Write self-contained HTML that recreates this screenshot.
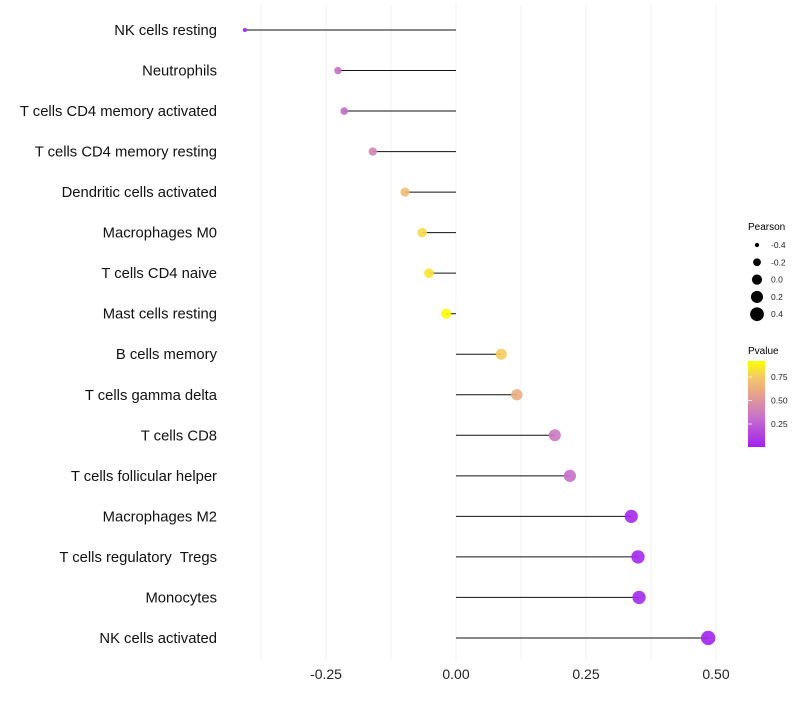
<!DOCTYPE html>
<html><head><meta charset="utf-8"><style>
body{margin:0;background:#fff;font-family:"Liberation Sans",sans-serif;}
svg text{font-family:"Liberation Sans",sans-serif;white-space:pre;}
</style></head><body>
<svg id="chart" width="800" height="700">
<defs><linearGradient id="pg" x1="0" y1="1" x2="0" y2="0">
<stop offset="0" stop-color="#a020f0"/><stop offset="0.35" stop-color="#c872c8"/><stop offset="0.6" stop-color="#e4a090"/><stop offset="0.8" stop-color="#f2c66c"/><stop offset="1" stop-color="#ffff00"/>
</linearGradient></defs>
<g id="grid"></g><g id="marks"></g><g id="ylab"></g><g id="xlab"></g>
<g id="legend">
<text x="748" y="230" font-size="10">Pearson</text>
<g id="sizeLeg"></g>
<text x="748" y="354" font-size="10">Pvalue</text>
<rect x="748" y="361" width="17" height="86" fill="url(#pg)"/>
<g id="colLeg"></g>
</g>
</svg>
<script>
const categories=["NK cells resting","Neutrophils","T cells CD4 memory activated","T cells CD4 memory resting","Dendritic cells activated","Macrophages M0","T cells CD4 naive","Mast cells resting","B cells memory","T cells gamma delta","T cells CD8","T cells follicular helper","Macrophages M2","T cells regulatory  Tregs","Monocytes","NK cells activated"];
const pearson=[-0.406,-0.227,-0.215,-0.160,-0.098,-0.065,-0.052,-0.019,0.087,0.117,0.190,0.219,0.337,0.350,0.352,0.485];
const pvalue=[0.02,0.32,0.30,0.42,0.70,0.80,0.83,0.93,0.76,0.62,0.36,0.32,0.05,0.05,0.05,0.03];
const xTicks=[-0.25,0,0.25,0.5];
const xTickLabels=["-0.25","0.00","0.25","0.50"];
const xMinor=[-0.375,-0.125,0.125,0.375];
const sizeLegVals=[-0.4,-0.2,0.0,0.2,0.4];
const colLegVals=[0.25,0.5,0.75];
const colLegLabels=["0.25","0.50","0.75"];
const NS="http://www.w3.org/2000/svg";
const x=v=>456+v*520;
const y=i=>30+i*40.53;
const r=v=>Math.sqrt(4+(v+0.41)/0.9*48);
const stops=[[0,[160,32,240]],[0.35,[200,114,200]],[0.6,[228,160,144]],[0.8,[242,198,108]],[1,[255,255,0]]];
function col(p){let t=Math.max(0,Math.min(1,(p-0.015)/(0.92-0.015)));for(let k=1;k<stops.length;k++){if(t<=stops[k][0]){const a=stops[k-1],b=stops[k];const f=(t-a[0])/(b[0]-a[0]);const c=a[1].map((v,j)=>Math.round(v+(b[1][j]-v)*f));return `rgb(${c})`;}}return "rgb(255,255,0)";}
function mk(tag,attrs,parent){const e=document.createElementNS(NS,tag);for(const k in attrs)e.setAttribute(k,attrs[k]);parent.appendChild(e);return e;}
const grid=document.getElementById('grid'),marks=document.getElementById('marks'),ylab=document.getElementById('ylab'),xlab=document.getElementById('xlab');
xMinor.concat(xTicks).forEach(v=>{const l=mk('line',{x1:x(v),x2:x(v),y1:5,y2:660,stroke:'#f0f0f0','stroke-width':1},grid);

});
xTicks.forEach((v,i)=>{const t=mk('text',{x:x(v),y:679,'font-size':14,'text-anchor':'middle',fill:'#222'},xlab);t.textContent=xTickLabels[i];

});
categories.forEach((c,i)=>{
const t=mk('text',{x:217,y:y(i)+5,'font-size':14.8,'text-anchor':'end',fill:'#111'},ylab);t.textContent=c;


const l=mk('line',{x1:x(0),x2:x(pearson[i]),y1:y(i),y2:y(i),stroke:'#111','stroke-width':1},marks);


const p=mk('circle',{cx:x(pearson[i]),cy:y(i),r:r(pearson[i]),fill:col(pvalue[i]),'fill-opacity':0.9},marks);


});
const sl=document.getElementById('sizeLeg');
sizeLegVals.forEach((v,i)=>{const cy=245+i*17.3;
const c=mk('circle',{cx:757,cy:cy,r:r(v),fill:'#000'},sl);


const t=mk('text',{x:771,y:cy+3,'font-size':8.5,fill:'#222'},sl);t.textContent=v.toFixed(1);

});
const cl=document.getElementById('colLeg');
colLegVals.forEach((v,i)=>{const cy=447.5-v*94;
const l=mk('line',{x1:748,x2:752,y1:cy,y2:cy,stroke:'#fff','stroke-width':0.8},cl);


const t=mk('text',{x:771,y:cy+3,'font-size':8.5,fill:'#222'},cl);t.textContent=colLegLabels[i];

});
</script>
</body></html>
